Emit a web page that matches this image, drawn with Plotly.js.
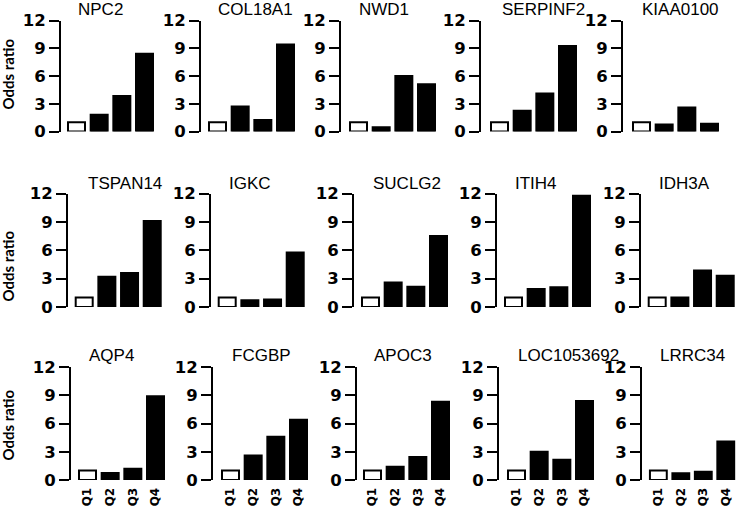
<!DOCTYPE html>
<html>
<head>
<meta charset="utf-8">
<script src="https://cdn.plot.ly/plotly-3.0.1.min.js"></script>
<style>html,body{margin:0;padding:0;background:#fff;}#chart{width:737px;height:507px;}</style>
</head>
<body>
<div id="chart"></div>
<script>
// ---- data ----
const quartiles = ['Q1', 'Q2', 'Q3', 'Q4'];
const genes = ['NPC2', 'COL18A1', 'NWD1', 'SERPINF2', 'KIAA0100',
               'TSPAN14', 'IGKC', 'SUCLG2', 'ITIH4', 'IDH3A',
               'AQP4', 'FCGBP', 'APOC3', 'LOC1053692', 'LRRC34'];
const oddsQ1 = [1, 1, 1, 1, 1,   1, 1, 1, 1, 1,   1, 1, 1, 1, 1];
const oddsQ2 = [1.8, 2.7, 0.45, 2.25, 0.75,   3.2, 0.72, 2.6, 1.9, 1.0,   0.75, 2.6, 1.4, 3.0, 0.72];
const oddsQ3 = [3.85, 1.25, 6.0, 4.1, 2.6,   3.6, 0.78, 2.15, 2.1, 3.85,   1.2, 4.6, 2.45, 2.15, 0.88];
const oddsQ4 = [8.4, 9.4, 5.1, 9.25, 0.85,   9.1, 5.75, 7.5, 11.75, 3.3,   8.9, 6.4, 8.3, 8.4, 4.1];
const yTicks = [0, 3, 6, 9, 12];
const yLabel = 'Odds ratio';

// ---- layout geometry (pixels) ----
const W = 737, H = 507;
const rowY = [[20.5, 131.5], [193.5, 307], [367, 480]];          // y of 12 and of 0
const panelX = [                                                    // [axis x, first bar left]
  [61, 67], [201, 208], [341, 349], [481, 490], [623, 632],
  [68, 74.7], [211, 217.7], [354, 361], [497, 504], [641, 647.7],
  [71, 78], [213, 221], [357, 363], [499, 507], [642, 649]
];
const titlePos = [
  [100, 10], [255.5, 10], [383.5, 10], [543, 10], [680, 10],
  [124.5, 183], [250, 183], [406.7, 183], [536, 183], [684, 183],
  [111, 355.5], [261.7, 355.5], [403, 355.5], [568.8, 355.5], [692.5, 355.5]
];
const yLabelY = [74, 266, 425];
const pitch = 22.67, barW = 19;

const traces = [];
const layout = {
  width: W, height: H,
  margin: {l: 0, r: 0, t: 0, b: 0},
  paper_bgcolor: '#fff', plot_bgcolor: 'rgba(0,0,0,0)',
  showlegend: false,
  bargap: 1 - (barW - 2) / pitch,
  annotations: []
};

genes.forEach((g, i) => {
  const row = Math.floor(i / 5);
  const [ax, b1] = panelX[i];
  const c1 = b1 + barW / 2;
  const r0 = -(c1 - ax) / pitch;
  const right = ax + (3.5 - r0) * pitch;
  const n = i + 1;
  const sfx = n === 1 ? '' : String(n);
  traces.push({
    type: 'bar',
    x: quartiles,
    y: [oddsQ1[i], oddsQ2[i], oddsQ3[i], oddsQ4[i]],
    xaxis: 'x' + sfx, yaxis: 'y' + sfx,
    marker: {color: ['#ffffff', '#000000', '#000000', '#000000'], line: {color: '#000', width: 2}},
    hoverinfo: 'skip'
  });
  layout['xaxis' + sfx] = {
    domain: [ax / W, Math.min(right, W) / W],
    range: [r0, 3.5],
    type: 'category',
    showline: false, showgrid: false, zeroline: false,
    ticks: 'outside', ticklen: 2, tickcolor: 'rgba(0,0,0,0)',
    showticklabels: row === 2,
    tickangle: -90,
    tickfont: {family: 'DejaVu Sans', size: 12, color: '#000', weight: 'bold'},
    anchor: 'y' + sfx,
    fixedrange: true
  };
  layout['yaxis' + sfx] = {
    domain: [1 - rowY[row][1] / H, 1 - rowY[row][0] / H],
    range: [0, 12],
    tickvals: yTicks,
    ticktext: yTicks.map(String),
    showline: true, linecolor: '#000', linewidth: 2,
    ticks: 'outside', ticklen: 10, tickwidth: 2, tickcolor: '#000',
    showgrid: false, zeroline: false,
    tickfont: {family: 'DejaVu Sans', size: 16.5, color: '#000', weight: 'bold'},
    anchor: 'x' + sfx,
    fixedrange: true
  };
  layout.annotations.push({
    text: g, xref: 'paper', yref: 'paper',
    x: titlePos[i][0] / W, y: 1 - titlePos[i][1] / H,
    xanchor: 'center', yanchor: 'middle', showarrow: false,
    font: {family: 'Liberation Sans, Arial', size: 17, color: '#000'}
  });
});

yLabelY.forEach(py => {
  layout.annotations.push({
    text: yLabel, xref: 'paper', yref: 'paper',
    x: 7.5 / W, y: 1 - py / H, xanchor: 'center', yanchor: 'middle',
    textangle: -90, showarrow: false,
    font: {family: 'Lato', size: 15, color: '#000', weight: 'bold'}
  });
});

Plotly.newPlot('chart', traces, layout, {displayModeBar: false, staticPlot: true});
</script>
</body>
</html>
